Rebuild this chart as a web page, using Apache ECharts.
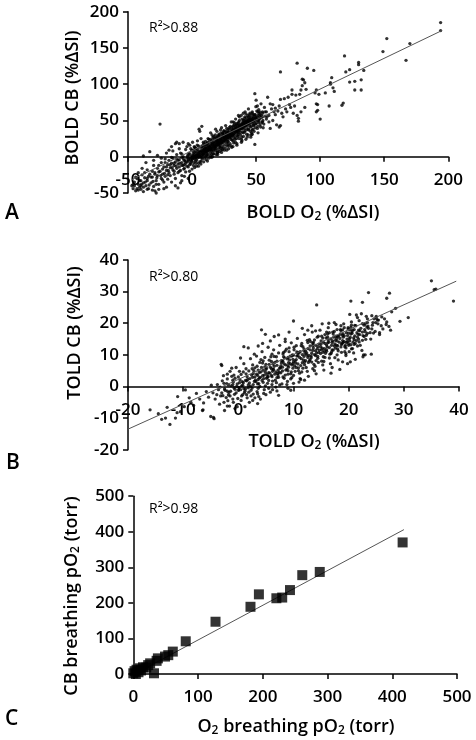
<!DOCTYPE html>
<html>
<head>
<meta charset="utf-8">
<script src="https://cdn.jsdelivr.net/npm/echarts@6/dist/echarts.min.js"></script>
<style>
html,body{margin:0;padding:0;background:#fff;}
#chart{width:476px;height:740px;}
</style>
</head>
<body>
<div id="chart"></div>
<script>
// ---------- Panel A: BOLD O2 (x) vs BOLD CB (y), %ΔSI ----------
const boldTail = [
[-47,-40],[-46,-44],[-45,-35],[-44,-47],[-43,-30],[-42,-38],[-41,-42],[-40,-33],[-40,-45],[-39,-25],[-38,-36],[-38,-48],[-38,1],[-37,-29],[-36,-40],[-36,-8],[-35,-18],[-35,-33],[-34,-44],[-33,-24],[-33,7],[-32,-36],[-31,-28],[-30,-12],[-30,-41],[-29,-22],[-29,-47],[-28,-33],[-28,-50],[-27,-16],[-27,-26],[-26,-38],[-25,-20],[-25,45],[-24,-8],[-24,-30],[-23,-24],[-22,-14],[-22,-35],[-21,-3],[-21,-27],[-20,-19],[-20,-42],[-19,-11],[-19,-31],[-18,-22],[-18,-5],[-17,-15],[-17,-26],[-16,-9],[-16,-35],[-16,14],[-15,-18],[-15,-2],[-14,-24],[-14,-12],[-13,-7],[-13,-30],[-13,18],[-12,-16],[-12,20],[-12,3],[-11,-10],[-11,-22],[-11,-43],[-10,-4],[-10,-14],[-10,18],[-9,-19],[-9,5],[-9,-36],[-8,-8],[-8,-26],[-7,20],[-7,-12],[-7,0],[-6,-16],[-6,-5],[-5,10],[-5,-21],[-5,-9],[-4,-2],[-4,-13],[-3,-6],[-3,-30],[-3,18],
[-5.5,-6],[-6.8,-3],[-8,-12],[-9.5,-9],[-11,-5],[-12.5,-13],[-14,-9],[-15.5,-15],[-17,-11],[-18.5,-19],[-20,-14],[-21.5,-23],[-23,-17],[-24.5,-26],[-26,-21],[-27.5,-29],[-29,-24],[-30.5,-34],[-32,-28],[-33.5,-39],[-35,-30],[-36.5,-35],[-38,-42],[-39.5,-38],[-41,-33],[-43,-44],[-45,-40],[-44,-28],[-42,-22],[-39,-16],[-35,-45],[-31,-46],[-26,-45],[-22,-44],[-24,-2],[-27,2],[-30,-5],[-20,5],[-18,9],[-15,8],[-10,11],[-13,-40],[-8,-33],[-6,-27],[-2,-20],[2,-15],[5,-13],[0,-17],[-4,14],[-1,11],[2,13],[4,16],
[-1,-10],[-3,3],[-6,-11],[-8,4],[-10,-20],[-12,-3],[-14,-20],[-16,-1],[-19,-25],[-21,-8],[-23,-32],[-26,-12],[-28,-38],[-31,-20],[-34,-27],[-37,-22],[-40,-40],[-42,-46],[-46,-38]
];
const boldCore = [
[-4,-7],[-3.5,1],[-2.8,-4],[-2,-11],[-1.6,3],[-1,-2],[-0.5,-6],[0,1],[0.3,-3],[0.8,5],[1.2,-8],[1.5,0],[2,3],[2.4,-2],[2.9,7],[3.3,1],[3.6,-5],[4,4],[4.4,10],[4.9,2],[5.2,-1],[5.5,6],[6,3],[6.3,13],[6.8,0],[7.1,8],[7.5,4],[7.9,-3],[8.2,11],[8.6,6],[9,2],[9.3,15],[9.7,8],[10,4],[10.4,12],[10.8,0],[11.1,9],[11.5,17],[11.8,6],[12.2,13],[12.6,3],[13,10],[13.3,20],[13.7,8],[14,15],[14.4,5],[14.8,12],[15.1,22],[15.5,9],[15.9,17],[16.2,13],[16.6,4],[17,19],[17.3,11],[17.7,25],[18,15],[18.4,8],[18.8,21],[19.1,14],[19.5,27],[19.9,18],[20.2,10],[20.6,23],[21,16],[21.3,30],[21.7,20],[22,12],[22.4,25],[22.8,18],[23.1,28],[23.5,14],[23.9,22],[24.2,32],[24.6,20],[25,26],[25.3,16],[25.7,30],[26.1,23],[26.4,35],[26.8,19],[27.2,28],[27.5,24],[27.9,33],[28.3,21],[28.6,30],[29,38],[29.4,26],[29.7,18],[30.1,32],[30.5,27],[30.8,40],[31.2,23],[31.6,35],[32,30],[32.3,43],[32.7,26],[33.1,37],[33.4,32],[33.8,20],[34.2,40],[34.5,34],[34.9,46],[35.3,29],[35.6,38],[36,33],[36.4,48],[36.7,25],[37.1,41],[37.5,36],[37.8,30],[38.2,45],[38.6,39],[39,52],[39.3,34],[39.7,43],[40.1,28],[40.4,47],[40.8,40],[41.2,55],[41.5,36],[41.9,45],[42.3,50],[42.6,31],[43,42],[43.4,57],[43.7,47],[44.1,38],[44.5,52],[44.9,44],[45.2,60],[45.6,35],[46,49],[46.3,42],[46.7,55],[47.1,46],[47.5,38],[47.8,53],[48.2,44],[48.6,58],[49,49],[49.3,40],[49.7,54],[50.1,46],[50.5,63],[50.9,50],[51.2,42],[51.6,57],[52,47],[52.3,60],[52.7,52],[53.1,44],
[-3,-14],[-2.3,5],[-1.3,-8],[-0.2,9],[0.6,-1],[1.1,-12],[1.9,6],[2.6,-6],[3.1,11],[3.9,-2],[4.6,7],[5,-9],[5.8,1],[6.5,8],[7.3,-1],[7.7,15],[8.4,3],[8.9,9],[9.5,-2],[10.2,17],[10.6,7],[11.3,2],[12,19],[12.4,9],[12.9,-2],[13.5,14],[14.2,24],[14.6,10],[15.3,3],[15.7,19],[16.4,27],[16.8,9],[17.5,16],[18.2,30],[18.6,11],[19.3,22],[19.7,6],[20.4,17],[20.8,29],[21.5,13],[21.9,24],[22.6,33],[23.3,19],[23.7,10],[24.4,27],[24.8,36],[25.5,22],[25.9,12],[26.6,29],[27,39],[27.7,21],[28.1,34],[28.8,15],[29.2,29],[29.9,42],[30.3,24],[31,35],[31.4,29],[32.2,38],[32.5,19],[33.2,44],[33.6,28],[34.4,36],[34.7,25],[35.5,43],[35.8,31],[36.5,39],[36.9,55],[37.6,33],[38,42],[38.8,27],[39.1,47],[39.8,38],[40.6,50],[41,34],[41.7,43],[42.1,59],[42.8,38],[43.2,48],[43.9,30],[44.3,46],[45,55],[45.4,41],[46.1,52],[46.9,37],[47.3,58],[48,48],[48.4,35],[49.1,56],[49.5,45],[50.3,52],[51,39],[51.4,62],[52.2,49],[53,58],[53.5,41],[54,54],[54.4,47],[55,60],[55.3,50],[56,45],[57,56],
[9.8,11],[10.9,14],[11.7,3],[12.8,16],[13.9,11],[14.9,18],[15.8,7],[16.9,21],[17.9,12],[18.9,17],[19.8,24],[20.9,19],[21.8,15],[22.9,22],[23.8,31],[24.9,24],[25.8,27],[26.9,31],[27.8,26],[28.9,34],[29.8,28],[30.9,37],[31.8,31],[32.9,35],[33.9,41],[34.8,37],[35.9,35],[36.8,44],[37.9,39],[38.9,41],[39.9,45],[40.9,43],[41.8,48],[42.9,45],[43.8,51],[44.8,48],[17.2,4],[21.2,7],[25.1,9],[28.5,11],[31.9,14],[35,18],[38.5,20],[42,24],[45.8,27],[12.5,25],[15.6,30],[19.4,35],[23,40],[26.2,43],[30.6,48],[34,52],[38.4,57],[41.4,62],[6.9,-10],[3.4,-13],[9.1,-7],[-6.5,-17],[-8.3,-1],[22.2,37],[20,3],[27.4,15],[33.5,24],[4.2,22],[8.8,20],[1.7,14],[-1.8,16],[0.4,20],[7,25],[14.5,33],[18.4,38],[36.2,57],[44,66],[49.8,69],[53.8,73],[56.5,68],[58,62],[47,62],[40,60],[32,48],[51.5,33],[55.5,40],[46.2,30],[58.5,55],[60,48],[6,35],[7.6,42],[5.5,38],
[-2.5,-2],[-1.2,-4],[0.2,-1],[0.9,2],[1.7,-3],[2.2,1],[3,-1],[3.8,3],[4.5,1],[5.3,4],[6,0],[6.7,6],[7.4,2],[8.1,7],[8.8,4],[9.4,9],[10.1,6],[10.8,10],[11.4,7],[12.1,12],[12.8,9],[13.4,13],[14.1,10],[14.7,15],[15.4,12],[16.1,16],[16.7,14],[17.4,18],[18,14],[18.7,20],[19.4,16],[20,21],[20.7,18],[21.4,22],[22,19],[22.7,24],[23.4,21],[24,26],[24.7,22],[25.4,27],[26,24],[26.7,28],[27.4,26],[28,31],[28.7,27],[29.4,32],[30,29],[30.7,33],[31.4,30],[32,36],[32.7,32],[33.4,38],[34,34],[34.7,39],[35.4,36],[36,41],[36.7,37],[37.4,43],[38,39],[38.7,44],[39.4,41],[40,46],[40.7,42],[41.4,47],[42,44],[42.7,49],[43.4,45],[44,50],[44.7,47],[45.4,52],[46,48],[46.7,51],[47.4,50],[48,54],[48.7,51],[49.4,58],[50,53],[51,55],[52,52],[53,62],[54,57],[55,55],
[1,9],[3,-9],[5,15],[7,-6],[9,18],[11,-4],[13,24],[15,-1],[17,28],[19,3],[21,31],[23,6],[25,35],[27,9],[29,40],[31,13],[33,47],[35,16],[37,50],[39,22],[41,53],[43,27],[45,58],[47,31],[2.5,12],[6.2,-7],[10.5,21],[14.3,1],[18.5,26],[22.5,9],[26.5,33],[30.5,15],[34.5,44],[38.5,24],[42.5,54],[46.5,33],[12,-6],[16,0],[20,6],[24,12],[28,17],[32,22],[36,28],[40,33],[44,37],[48,43],[8,14],[12,19],[16,24],[20,28],[24,33],[28,37],[32,41],[36,46],[40,50],[44,55]
];
const boldOuter = [
[47,60],[49,87],[49,17],[50,78],[51,70],[52,65],[53,55],[55,62],[55,48],[57,62],[58,52],[59,82],[60,57],[61,73],[61,39],[62,66],[63,72],[63,50],[64,62],[65,67],[65,58],[66,44],[67,63],[68,70],[68,41],[69,43],[69,117],[69,79],[70,60],[71,55],[72,80],[73,66],[74,62],[75,82],[76,72],[77,68],[78,92],[78,86],[79,60],[80,70],[81,85],[82,57],[82,129],[83,53],[83,49],[84,86],[85,92],[85,62],[86,98],[86,107],[87,106],[88,102],[88,68],[89,93],[90,122],[95,119],[96,88],[97,92],[97,73],[97,62],[98,72],[98,64],[99,86],[100,52],[104,88],[107,70],[108,102],[108,100],[109,109],[110,95],[111,90],[117,71],[118,74],[119,139],[120,117],[123,120],[123,103],[127,104],[127,92],[130,130],[130,127],[132,92],[132,106],[134,119],[149,145],[152,163],[167,133],[170,156],[194,185],[194,174]
];
const boldFit = [[-47,-31.5],[195,174]];

// ---------- Panel B: TOLD O2 (x) vs TOLD CB (y), %ΔSI ----------
const toldCore = [
[-3,-2],[-2.6,1],[-2.2,-3.5],[-1.8,0.5],[-1.4,-1.5],[-1,2],[-0.7,-2.5],[-0.3,0],[0,3],[0.4,-1],[0.7,1.5],[1.1,-2],[1.4,4],[1.8,0.5],[2.1,2.5],[2.5,-0.5],[2.8,5],[3.2,1.5],[3.5,3.5],[3.9,0],[4.2,6],[4.6,2.5],[4.9,4.5],[5.3,1],[5.6,7],[6,3.5],[6.3,5.5],[6.7,2],[7,8],[7.4,4.5],[7.7,6.5],[8.1,3],[8.4,9],[8.8,5.5],[9.1,7.5],[9.5,4],[9.8,10],[10.2,6.5],[10.5,8.5],[10.9,5],[11.2,11],[11.6,7.5],[11.9,9.5],[12.3,6],[12.6,12],[13,8.5],[13.3,10.5],[13.7,7],[14,13],[14.4,9.5],[14.7,11.5],[15.1,8],[15.4,14],[15.8,10.5],[16.1,12.5],[16.5,9],[16.8,15],[17.2,11.5],[17.5,13.5],[17.9,10],[18.2,16],[18.6,12.5],[18.9,14.5],[19.3,11],[19.6,17],[20,13.5],[20.3,15.5],[20.7,12],[21,18],[21.4,14.5],[21.7,16.5],[22.1,13],
[-2.9,1.8],[-2.4,-1.2],[-1.9,-4.5],[-1.2,3.2],[-0.8,-0.4],[-0.1,-3.8],[0.2,1.2],[0.9,4.6],[1.3,-0.8],[1.7,2.2],[2.3,-3],[2.6,6.8],[3,3],[3.4,-1.6],[3.8,4.4],[4.1,8.5],[4.5,1.3],[4.8,6.2],[5.2,3.8],[5.5,-0.6],[5.9,9.4],[6.2,4.8],[6.6,7.6],[6.9,1.2],[7.3,10.6],[7.6,5.8],[8,8.2],[8.3,2.6],[8.7,11.8],[9,6.6],[9.4,9.6],[9.7,2.8],[10.1,12.4],[10.4,7.4],[10.8,10.6],[11.1,4.2],[11.5,13.6],[11.8,8.4],[12.2,11.2],[12.5,4.8],[12.9,14.8],[13.2,9.6],[13.6,12.2],[13.9,6.4],[14.3,15.6],[14.6,10.8],[15,13.4],[15.3,6.8],[15.7,16.4],[16,11.6],[16.4,14],[16.7,7.2],[17.1,17.2],[17.4,12.8],[17.8,15.2],[18.1,8.4],[18.5,18],[18.8,13.6],[19.2,16],[19.5,9.8],[19.9,18.6],[20.2,14.4],[20.6,16.8],[20.9,10.6],[21.3,19.2],[21.6,15.6],[22,17.6],[22.4,11.4],[22.8,19.4],[23.2,16.2],[23.6,18.4],[24,15],[24.4,20.2],[24.8,17.4],[25.2,21],[25.6,16.4],
[-4.2,-4],[-3.8,0.6],[-3.4,-5.6],[-2.7,3.4],[-2,-6.2],[-1.5,4.8],[-0.9,-5],[-0.4,6],[0.5,-4.4],[1,7.2],[1.6,-3.6],[2.2,8.8],[2.7,-2.4],[3.3,9.6],[3.7,-3.2],[4.3,11],[4.7,-1],[5.4,12.4],[5.8,-1.8],[6.4,11.6],[6.8,-0.2],[7.5,13],[7.9,0.8],[8.5,14.2],[8.9,1.6],[9.6,13.8],[10,1],[10.7,15.2],[11.3,2.2],[12,16.4],[12.7,3.2],[13.4,17.2],[14.1,4],[14.8,17.8],[15.5,5.2],[16.3,18.6],[17,6],[17.7,19.6],[18.4,5.4],[19.1,19.8],[19.8,7.2],[20.5,20.4],[21.2,8.6],[21.9,20.8],[22.6,9.4],[23.4,21.4],[24.1,10.2],[25,22.2],[25.9,19.2],[26.5,21.4],[27.3,19],[27.8,23.6],
[0.6,0.2],[1.5,1.8],[2.4,3.6],[3.1,2],[3.6,5.2],[4.4,3.4],[5.1,5.8],[5.7,4.2],[6.5,6.4],[7.2,5.2],[7.8,7.4],[8.6,6.8],[9.3,8.4],[9.9,7.2],[10.6,9.6],[11.4,8.8],[12.1,10.4],[12.8,9.8],[13.5,11.4],[14.2,10.6],[14.9,12.6],[15.6,12],[16.2,13.8],[16.9,13],[17.6,14.6],[18.3,14],[19,15.6],[19.7,15],[20.4,16.6],[21.1,16],[21.8,17.8],[22.5,17.2],[23.3,18.8],[24.2,18.2],[8.2,10.8],[9.2,12.2],[10.3,4.8],[11.7,5.8],[13.1,14.2],[14.5,7.6],[15.9,15.4],[16.6,10.2],[18.7,10.8],[19.4,13],[20.8,14],[3.9,7.6],[4.8,9.2],[6.1,10.2],[6.1,0.6],[7,-1.4],[5,-2.6],[4,-4],[2,-5],[1.2,-6.4],[3.5,-5.4]
];
const toldDense = [
[-2.5,-0.8],[-2.1,0.9],[-1.7,-1.9],[-1.3,0.2],[-0.9,1.4],[-0.6,-0.9],[-0.2,0.8],[0.1,-0.3],[0.3,2.1],[0.8,0.4],[1,-0.7],[1.3,1.9],[1.6,3.1],[2,1.1],[2.2,0.1],[2.6,2.9],[2.9,1.6],[3.3,3.9],[3.5,0.8],[3.8,2.7],[4.1,4.6],[4.3,1.9],[4.7,3.6],[5,5.4],[5.1,2.6],[5.5,4.4],[5.8,6.1],[6.1,3.1],[6.4,5.3],[6.6,3.9],[7,6.7],[7.1,4.1],[7.5,5.9],[7.8,8.2],[8,4.9],[8.3,7.1],[8.6,5.2],[8.9,8.7],[9.1,6.1],[9.4,7.2],[9.7,9.6],[9.9,5.8],[10.3,8.1],[10.6,10.9],[10.8,7.1],[11.1,9.2],[11.3,6.6],[11.6,10.1],[11.9,11.9],[12.2,8.2],[12.4,10.6],[12.7,7.6],[13,11.6],[13.2,9.1],[13.5,12.9],[13.8,10.1],[14.1,8.2],[14.3,11.9],[14.6,13.4],[14.9,10.4],[15.2,12.1],[15.4,9.4],[15.7,13.6],[16,11.1],[16.3,14.7],[16.5,12.3],[16.8,10.4],[17,13.9],[17.3,15.6],[17.6,12.1],[17.9,14.4],[18.1,11.3],[18.4,15.2],[18.7,13.3],[19,16.6],[19.2,14.2],[19.5,12.2],[19.8,16.1],[20.1,15.1],[20.4,13.2],[20.6,17.3],[20.9,15.4],[21.2,13.6],[21.5,17],[21.8,15],[22.2,18.4],[22.6,16.1],[23,17.3],[23.5,19.1],[23.9,17],
[-1.5,-3],[-0.4,-2],[0.5,3.8],[1.2,-1.5],[1.9,4.9],[2.3,-1.2],[3,5.9],[3.6,-0.6],[4.4,7.4],[4.9,0.2],[5.6,8.3],[6.2,1.7],[6.9,9.4],[7.3,2.9],[8.1,10.3],[8.5,3.6],[9.2,11],[9.6,4.6],[10.1,11.6],[10.9,5.9],[11.4,12.9],[12,6.9],[12.6,13.9],[13.3,7.7],[13.8,14.7],[14.4,8.9],[15.1,15.9],[15.7,9.2],[16.2,16.6],[16.9,10.9],[17.4,17.4],[18,11.9],[18.6,17.7],[19.3,12.6],[19.9,18.2],[20.5,11.9],[21.1,19.3],[21.9,14.1],[22.5,19.9],[23.1,14.9],[24.5,16.9],[25.3,19.8],[26.2,18.2],[26.9,20.4],[2.7,0.6],[5.3,2.9],[7.7,4.3],[9,3.9],[10.5,6],[12.9,8.1],[14,9.8],[15.6,11.2],[17.8,13],[19.6,13.9],[21,14.8],[22.8,15.8],[6,7.9],[8.2,9.4],[10,9.9],[11.9,11.2],[13.6,13.9],[15.3,15.3],[17.2,16.6],[18.9,17.9],[20.4,18.7],[3.4,6.4],[1.4,5.6],[4.6,-2.2],[6.2,-1],[8.8,0.6],[11,1.4],[0.6,-3],[-1,-4],[-2.8,-2.9],[-3.3,-0.2],[-2,3.9],
[-2,-1.5],[-1,0.6],[0,-1.2],[0.9,1.2],[1.8,-0.4],[2.7,4.1],[3.6,2.2],[4.5,5.1],[5.4,3.2],[6.3,7.1],[7.2,3.6],[8.1,7.8],[9,9.2],[9.9,8.6],[10.8,9.8],[11.7,12.6],[12.6,9.2],[13.5,13.6],[14.4,12.6],[15.3,10.8],[16.2,15.6],[17.1,14.4],[18,12.9],[18.9,16.2],[19.8,14.2],[20.7,17.8],[21.6,12.8],[22.5,14.6],[23.4,20.2],[24.3,19.4],[4,2.9],[5,7],[6,5.6],[7,2.8],[8,6.1],[9,5],[10,7.8],[11,10.6],[12,7.7],[13,12.8],[14,11.3],[15,14.4],[16,13.1],[17,11.6],[18,15.8],[19,13.9],[20,16.9],[21,13.3],[22,16.4],[23,19.8],[1.5,-2.6],[2.5,5.6],[3.5,-2.3],[4.5,8.1],[5.5,1.9],[6.5,9.5],[7.5,0.5],[8.5,11.2],[9.5,2.4],[10.5,12.9],[11.5,4.6],[12.5,14.6],[13.5,5.6],[14.5,15.9],[15.5,7.9],[16.5,17],[17.5,9.1],[18.5,16.6],[19.5,10.4],[20.5,19.4],[0.2,4.8],[-0.6,2.6],[-1.8,-2.7],[-2.6,-5],[-3.9,-2.6],[1.9,-1.8],[3.7,0.9],[6.8,4.6],[9.7,6.8],[12.4,9.9],[15.1,11.6],[17.7,15.9],[20.2,17.9],[22.9,18],[24.9,20.2]
];
const toldTail = [
[-0.6,-7],[-1.6,-6.2],[-2.5,-7.6],[-3.2,-3],[-3.6,-1],[-4.6,-2],[-4.9,0.4],[-5.4,-3.4],[-5.8,-1.6],[-6.3,-5.2],[-6.5,-7.6],[-7,-4],[-7.6,-2.2],[-8.1,-6],[-8.6,-5],[-8.9,-3.6],[-9.6,-1.1],[-9.8,-6.4],[-10.5,-8],[-11,-3.2],[-11.1,-8.3],[-11.4,-10],[-12.4,-12],[-12.9,-6.6],[-13.2,-10],[-13.9,-10.4],[-14.5,-8.6],[-16,-7.4],[-5,-9.5],[-4.5,-9.8],[-4.4,-10.2],[-6.4,-7.4],[-3,6.6],[-3.1,7],[-1.2,5.8]
];
const toldOuter = [
[4.2,17.9],[4.9,16.5],[6.5,15.8],[7.3,16.3],[5.8,14.4],[3.6,12.8],[4.4,13.6],[8.5,15],[10,20.7],[14.2,25.8],[9.2,17.2],[11.6,18.4],[12.6,17.8],[20.4,27],[22.5,26.6],[23.6,29.7],[26.9,27.9],[27.4,29.5],[20.2,22.8],[21.4,22.6],[22.3,23],[23.2,22.2],[25,21.6],[25.4,21],[24.6,21.4],[26.8,19.6],[27.6,17.8],[25.6,17],[28.5,24.7],[30.8,21.8],[35,33.4],[35.5,30.6],[35.8,30.8],[39,27],[23.4,16.8],[23,10],[20,13],[20.1,11],[18.9,7.8],[20.3,7.8],[22.7,10],[11.2,2.5],[12,2],[10,3.5],[13.3,19.2],[15.2,19.8],[16.4,20],[17.4,20.2],[18.6,19.2],[19.2,18.6],[16.8,4.2],[13.8,5],[9,-0.6],[7.3,-2.8],[3,-3.6],[2.6,-4.4],[0.8,-2.6],[-0.2,-6.4],[1,12.6],[1.8,12.2],[2.9,10.2],[0.4,9],[-0.8,3.6],[-2,2.4],[29.3,20.6],[26,22],[24.2,22.4],[21.6,21.8],[9.5,-1.2],[14,17.6],[16,17.2],[17.9,18]
];
const toldFit = [[-20,-13.5],[39.5,33.3]];

// ---------- Panel C: O2 breathing pO2 (x) vs CB breathing pO2 (y), torr ----------
const pO2Data = [
[0,2],[2,8],[4,0],[5,12],[8,5],[10,16],[12,10],[15,19],[20,18],[23,25],[26,30],[32,2],[36,37],[38,44],[49,49],[54,53],[61,63],[81,92],[127,147],[181,189],[194,224],[221,213],[230,215],[242,236],[261,278],[288,287],[416,370]
];
const pO2Fit = [[0,-2],[418,406]];

const r2Labels = ['R²>0.88', 'R²>0.80', 'R²>0.98'];
const panelLetters = ['A', 'B', 'C'];
const xTitles = ['BOLD O{sub|2} (%ΔSI)', 'TOLD O{sub|2} (%ΔSI)', 'O{sub|2} breathing pO{sub|2} (torr)'];
const yTitles = ['BOLD CB (%ΔSI)', 'TOLD CB (%ΔSI)', 'CB breathing pO{sub|2} (torr)'];

const FONT = "'Open Sans', sans-serif";

function axisCommon(idx, min, max, interval) {
  return {
    type: 'value', gridIndex: idx, min: min, max: max, interval: interval,
    splitLine: {show: false},
    axisLine: {show: true, onZero: false, lineStyle: {color: '#000', width: 1.5}},
    axisTick: {show: true, inside: false, length: 5, lineStyle: {color: '#000', width: 1.5}},
    axisLabel: {color: '#000', fontFamily: FONT, fontSize: 17, fontWeight: 600}
  };
}
function xAx(idx, min, max, interval, offset) {
  const a = axisCommon(idx, min, max, interval);
  a.position = 'bottom';
  a.offset = offset;
  a.axisLabel.margin = 15;
  return a;
}
function yAx(idx, min, max, interval) {
  const a = axisCommon(idx, min, max, interval);
  a.position = 'left';
  a.axisLabel.margin = 9;
  return a;
}

function titleText(text, x, y, rot) {
  return {
    type: 'text', x: x, y: y, rotation: rot, silent: true,
    style: {
      text: text, fill: '#000', font: '600 18px ' + FONT,
      align: 'center', verticalAlign: 'middle',
      rich: {sub: {fontSize: 12, fontWeight: 600, fontFamily: FONT, fill: '#000', padding: [8, 0, 0, 0]}}
    }
  };
}

const dot = {color: '#000'};
const fitStyle = {color: '#555', width: 1};

const option = {
  animation: false,
  backgroundColor: '#fff',
  grid: [
    {left: 128, top: 11.7, width: 320.3, height: 181.3},
    {left: 128, top: 260, width: 331, height: 189.7},
    {left: 133.3, top: 496.2, width: 323.7, height: 177.8}
  ],
  xAxis: [
    xAx(0, -50, 200, 50, -36.26),
    xAx(1, -20, 40, 10, -63.23),
    xAx(2, 0, 500, 100, 0)
  ],
  yAxis: [
    yAx(0, -50, 200, 50),
    yAx(1, -20, 40, 10),
    yAx(2, 0, 500, 100)
  ],
  series: [
    {type: 'scatter', xAxisIndex: 0, yAxisIndex: 0, data: boldTail.concat(boldCore, boldOuter), symbolSize: 3.3, itemStyle: dot, silent: true},
    {type: 'line', xAxisIndex: 0, yAxisIndex: 0, data: boldFit, showSymbol: false, lineStyle: fitStyle, silent: true, z: 3},
    {type: 'scatter', xAxisIndex: 1, yAxisIndex: 1, data: toldTail.concat(toldCore, toldDense, toldOuter), symbolSize: 3.3, itemStyle: dot, silent: true},
    {type: 'line', xAxisIndex: 1, yAxisIndex: 1, data: toldFit, showSymbol: false, lineStyle: fitStyle, silent: true, z: 3},
    {type: 'line', xAxisIndex: 2, yAxisIndex: 2, data: pO2Fit, showSymbol: false, lineStyle: fitStyle, silent: true, z: 1},
    {type: 'scatter', xAxisIndex: 2, yAxisIndex: 2, data: pO2Data, symbol: 'rect', symbolSize: 10, itemStyle: dot, silent: true, z: 2}
  ],
  graphic: [
    titleText(xTitles[0], 313, 213, 0),
    titleText(xTitles[1], 314, 442, 0),
    titleText(xTitles[2], 296, 727, 0),
    titleText(yTitles[0], 73, 98, Math.PI / 2),
    titleText(yTitles[1], 75, 333, Math.PI / 2),
    titleText(yTitles[2], 72, 596, Math.PI / 2),
    {type: 'text', left: 149, top: 21, silent: true, style: {text: r2Labels[0], font: '14px ' + FONT, fill: '#000'}},
    {type: 'text', left: 149, top: 270, silent: true, style: {text: r2Labels[1], font: '14px ' + FONT, fill: '#000'}},
    {type: 'text', left: 149, top: 502, silent: true, style: {text: r2Labels[2], font: '14px ' + FONT, fill: '#000'}},
    {type: 'text', left: 5, top: 203, silent: true, style: {text: panelLetters[0], font: '600 21px ' + FONT, fill: '#000'}},
    {type: 'text', left: 6, top: 453, silent: true, style: {text: panelLetters[1], font: '600 21px ' + FONT, fill: '#000'}},
    {type: 'text', left: 5, top: 709, silent: true, style: {text: panelLetters[2], font: '600 21px ' + FONT, fill: '#000'}}
  ]
};

const chart = echarts.init(document.getElementById('chart'), null, {renderer: 'canvas'});
chart.setOption(option);
</script>
</body>
</html>
